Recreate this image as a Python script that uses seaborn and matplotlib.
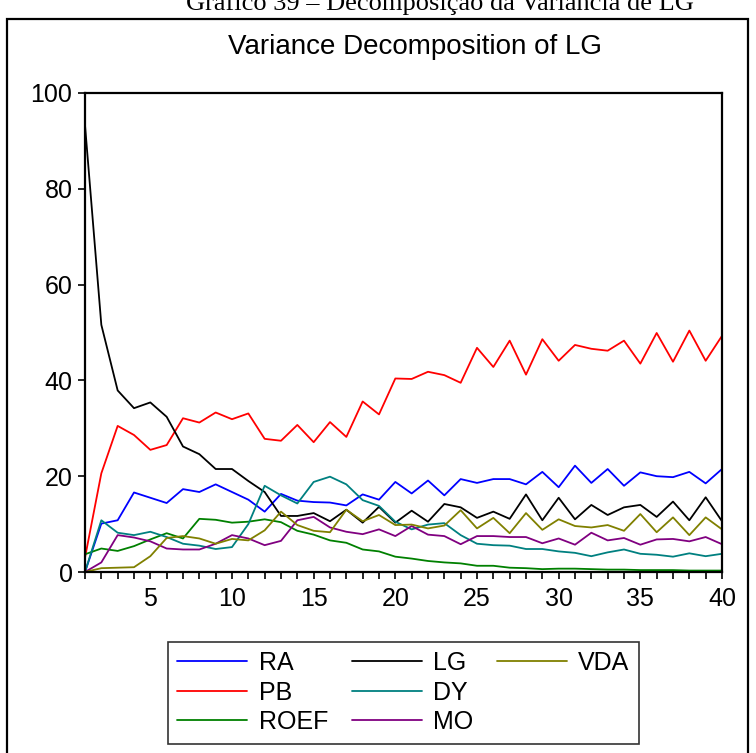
import numpy as np
import pandas as pd
import matplotlib
matplotlib.use("Agg")
import matplotlib.pyplot as plt
from matplotlib.lines import Line2D
from matplotlib.patches import Rectangle
import seaborn as sns

periods = list(range(1, 41))

ra = [0.0, 10.1, 10.8, 16.6, 15.5, 14.4, 17.3, 16.7, 18.3, 16.7,
      15.1, 12.6, 16.3, 14.9, 14.6, 14.5, 13.9, 16.2, 15.1, 18.8,
      16.4, 19.1, 16.0, 19.4, 18.6, 19.4, 19.4, 18.3, 20.9, 17.7,
      22.2, 18.6, 21.5, 18.0, 20.8, 20.0, 19.8, 20.9, 18.5, 21.5]
pb = [3.0, 20.6, 30.5, 28.6, 25.5, 26.5, 32.1, 31.2, 33.3, 31.9,
      33.1, 27.8, 27.4, 30.7, 27.1, 31.3, 28.2, 35.6, 32.9, 40.4,
      40.3, 41.8, 41.1, 39.5, 46.8, 42.8, 48.3, 41.2, 48.6, 44.1,
      47.4, 46.6, 46.2, 48.3, 43.5, 49.9, 43.9, 50.4, 44.1, 49.3]
roef = [3.7, 4.9, 4.4, 5.4, 6.8, 8.1, 7.0, 11.1, 10.9, 10.3,
        10.5, 11.0, 10.4, 8.6, 7.8, 6.6, 6.1, 4.7, 4.3, 3.2,
        2.8, 2.3, 2.0, 1.8, 1.3, 1.3, 0.9, 0.8, 0.6, 0.7,
        0.7, 0.6, 0.5, 0.5, 0.4, 0.4, 0.4, 0.3, 0.3, 0.3]
lg = [93.3, 51.6, 37.9, 34.2, 35.4, 32.4, 26.2, 24.6, 21.5, 21.5,
      19.0, 16.7, 11.7, 11.7, 12.3, 10.6, 13.0, 10.3, 13.6, 10.3,
      12.8, 10.5, 14.2, 13.5, 11.3, 12.6, 11.1, 16.2, 10.8, 15.5,
      11.0, 14.0, 11.9, 13.5, 14.0, 11.5, 14.7, 10.8, 15.6, 10.6]
dy = [0.0, 10.8, 8.2, 7.7, 8.4, 7.3, 5.9, 5.5, 4.8, 5.2,
      10.0, 18.0, 16.0, 14.3, 18.8, 19.9, 18.3, 15.0, 13.8, 10.5,
      8.9, 9.9, 10.2, 7.7, 5.9, 5.6, 5.5, 4.8, 4.8, 4.3,
      4.0, 3.3, 4.1, 4.7, 3.8, 3.6, 3.2, 3.9, 3.3, 3.8]
mo = [0.0, 2.0, 7.7, 7.2, 6.4, 4.9, 4.7, 4.7, 5.9, 7.7,
      7.0, 5.6, 6.5, 10.8, 11.5, 9.3, 8.4, 7.9, 8.9, 7.5,
      9.6, 7.8, 7.5, 5.8, 7.5, 7.5, 7.3, 7.3, 6.0, 7.0,
      5.7, 8.2, 6.6, 7.1, 5.7, 6.8, 6.9, 6.4, 7.3, 5.8]
vda = [0.0, 0.8, 0.9, 1.0, 3.3, 7.1, 7.5, 7.0, 5.9, 6.9,
       6.6, 8.7, 12.6, 9.8, 8.6, 8.3, 13.0, 10.6, 11.9, 9.8,
       9.9, 9.1, 9.7, 12.9, 9.1, 11.3, 8.1, 12.3, 8.8, 11.0,
       9.6, 9.3, 9.8, 8.6, 12.1, 8.3, 11.4, 7.7, 11.4, 8.9]

series_names = ["RA", "PB", "ROEF", "LG", "DY", "MO", "VDA"]
series_values = [ra, pb, roef, lg, dy, mo, vda]
colors = {"RA": "#0000ff", "PB": "#ff0000", "ROEF": "#008000", "LG": "#000000",
          "DY": "#008080", "MO": "#800080", "VDA": "#808000"}

frames = [pd.DataFrame({"period": periods, "share": vals, "variable": name})
          for name, vals in zip(series_names, series_values)]
df = pd.concat(frames, ignore_index=True)

sns.set_theme(style="white")
plt.rcParams["font.family"] = ["Liberation Sans", "DejaVu Sans"]
for key in ("text.color", "axes.labelcolor", "xtick.color", "ytick.color",
            "axes.edgecolor"):
    plt.rcParams[key] = "black"

fig = plt.figure(figsize=(7.56, 7.53), dpi=100)
ax = fig.add_axes([85 / 756, 181 / 753, 637 / 756, 479 / 753])

sns.lineplot(data=df, x="period", y="share", hue="variable",
             hue_order=series_names, palette=colors, linewidth=1.3,
             legend=False, ax=ax)

ax.set_xlim(1, 40)
ax.set_ylim(0, 100)
ax.set_xticks(range(1, 41), minor=True)
ax.set_xticks(range(5, 41, 5))
ax.set_yticks(range(0, 101, 20))
ax.set_xlabel("")
ax.set_ylabel("")
ax.tick_params(axis="both", which="both", direction="out", length=5,
               width=1.2, color="black", labelcolor="black", labelsize=18,
               bottom=True, left=True, top=False, right=False)
ax.tick_params(axis="x", which="both", pad=5.5)
ax.tick_params(axis="y", which="both", pad=4)
for sp in ax.spines.values():
    sp.set_visible(True)
    sp.set_color("black")
    sp.set_linewidth(1.6)
ax.grid(False)

fig.text(415 / 756, 1 - 47 / 753, "Variance Decomposition of LG",
         ha="center", va="center", fontsize=20)

fig.text(440 / 756, 1 - 10 / 753, "Gráfico 39 – Decomposição da Variância de LG",
         ha="center", va="baseline", fontsize=19,
         family=["Liberation Serif", "DejaVu Serif"])

fig.add_artist(Rectangle((7 / 756, -0.02), 741 / 756, 1 - 19 / 753 + 0.02,
                         transform=fig.transFigure, fill=False,
                         edgecolor="black", linewidth=1.6, clip_on=False))

handles = [Line2D([], [], color=colors[n], linewidth=1.3) for n in series_names]
labels = list(series_names)
handles += [Line2D([], [], linestyle="none")] * 2
labels += ["", ""]
leg = fig.legend(handles, labels, ncol=3, loc="center",
                 bbox_to_anchor=(403.5 / 756, 1 - 692.5 / 753),
                 fontsize=18, frameon=True, fancybox=False,
                 edgecolor="black", handlelength=2.8, handletextpad=0.45,
                 columnspacing=0.95, labelspacing=0.22, borderpad=0.38)
leg.get_frame().set_linewidth(1.2)
for t in leg.get_texts():
    t.set_color("black")

fig.savefig("out.png", dpi=100)
